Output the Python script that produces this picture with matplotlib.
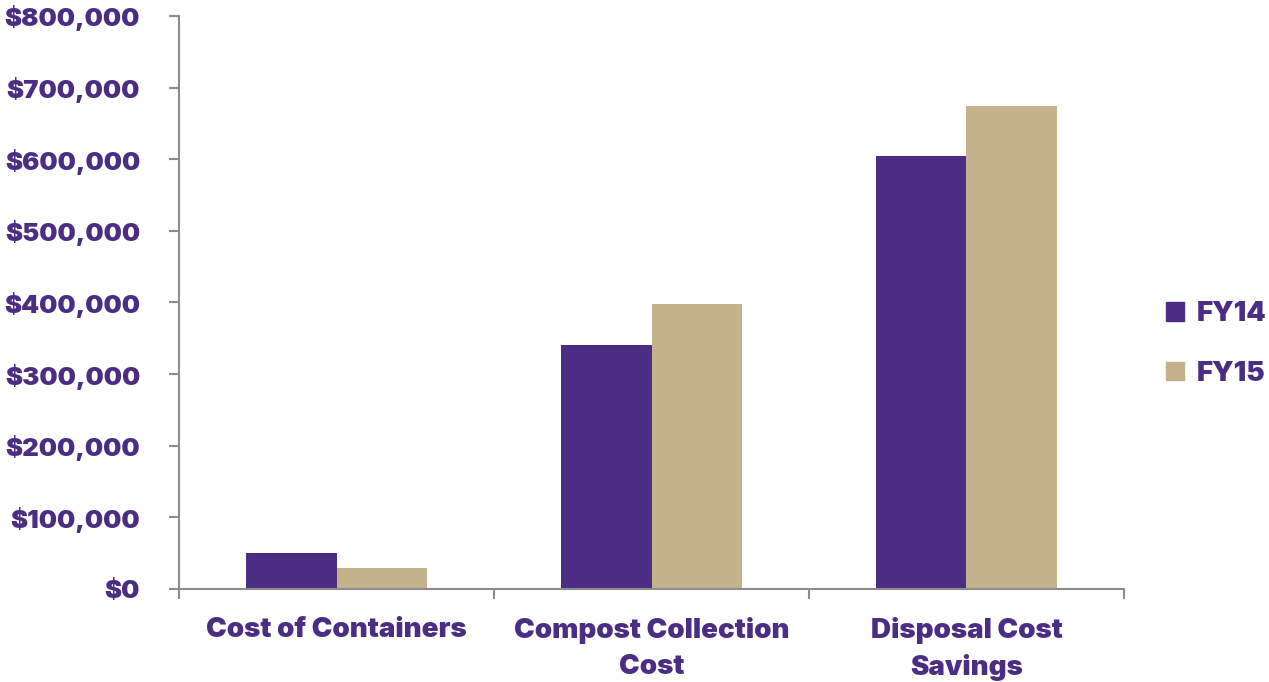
import matplotlib.pyplot as plt
import numpy as np
from matplotlib.patches import Patch
from matplotlib.ticker import FuncFormatter

categories = ["Cost of Containers", "Compost Collection\nCost", "Disposal Cost\nSavings"]
series_names = ["FY14", "FY15"]
fy14 = [50000, 340000, 605000]
fy15 = [30000, 398000, 675000]

PURPLE = "#4B2E83"
GOLD = "#C4B28D"
AXIS = "#8C8C8C"

plt.rcParams["font.family"] = ["Inter", "DejaVu Sans"]
plt.rcParams["font.weight"] = 900

fig = plt.figure(figsize=(12.69, 6.82), dpi=100)
ax = fig.add_axes([179 / 1269, 1 - 589 / 682, (1124 - 179) / 1269, (589 - 16) / 682])

x = np.arange(len(categories))
width = 0.286
ax.bar(x - width / 2, fy14, width, color=PURPLE, label=series_names[0])
ax.bar(x + width / 2, fy15, width, color=GOLD, label=series_names[1])

ax.set_xlim(-0.5, len(categories) - 0.5)
ax.set_ylim(0, 800000)
ax.set_yticks(np.arange(0, 800001, 100000))
ax.yaxis.set_major_formatter(FuncFormatter(lambda v, _: f"${v:,.0f}"))

# category boundaries carry the ticks, labels sit at the centres
ax.set_xticks(np.arange(-0.5, len(categories), 1.0))
ax.set_xticklabels([])
ax.set_xticks(x, minor=True)
ax.set_xticklabels(categories, minor=True)

for side in ["top", "right"]:
    ax.spines[side].set_visible(False)
for side in ["left", "bottom"]:
    ax.spines[side].set_color(AXIS)
    ax.spines[side].set_linewidth(1.5)

ax.tick_params(axis="y", which="major", direction="out", length=7, width=1.5,
               color=AXIS, labelcolor=PURPLE, labelsize=18.5, pad=21)
ax.tick_params(axis="x", which="major", direction="out", length=7, width=1.5, color=AXIS)
ax.tick_params(axis="x", which="minor", length=0, labelcolor=PURPLE, labelsize=20, pad=20)
for lbl in ax.get_yticklabels() + ax.get_xticklabels(minor=True):
    lbl.set_fontweight(900)
for lbl in ax.get_xticklabels(minor=True):
    lbl.set_linespacing(1.5)
    lbl.set_verticalalignment("top")

handles = [Patch(color=PURPLE, label=series_names[0]), Patch(color=GOLD, label=series_names[1])]
fig.legend(handles=handles, loc="center left", bbox_to_anchor=(1166 / 1269, 1 - 344 / 682),
           frameon=False, borderpad=0, borderaxespad=0, handlelength=0.65, handleheight=0.65,
           handletextpad=0.45, labelspacing=1.2, prop={"size": 20, "weight": 900},
           labelcolor=PURPLE)

fig.savefig("out.png", dpi=100)
